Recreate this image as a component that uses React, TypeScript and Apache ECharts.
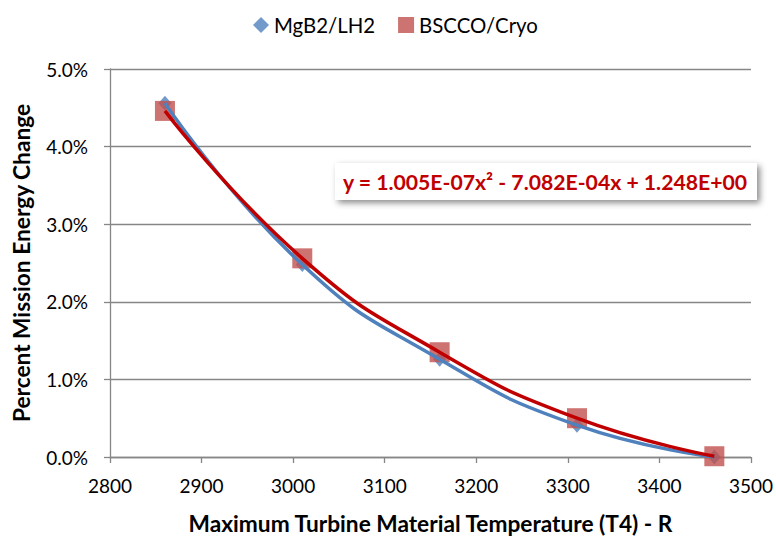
import React, { useEffect, useRef } from "react";
import * as echarts from "echarts";

const temps = [2860, 3010, 3160, 3310, 3460];
const mgb2Values = [4.56, 2.48, 1.26, 0.41, 0.0];
const bsccoValues = [4.46, 2.56, 1.35, 0.5, 0.01];
const seriesNames = ["MgB2/LH2", "BSCCO/Cryo"];
const equationText = "y = 1.005E-07x² - 7.082E-04x + 1.248E+00";
const xTitle = "Maximum Turbine Material Temperature (T4) - R";
const yTitle = "Percent Mission Energy Change";

const FONT_NAME = "Lato";
const FONT = "Lato, 'DejaVu Sans', sans-serif";
const GRID = "#868686";

function fitSize(text: string, weight: string, target: number, fallback: number): number {
  try {
    const ctx = document.createElement("canvas").getContext("2d");
    if (!ctx) return fallback;
    ctx.font = `${weight} 100px ${FONT_NAME}`;
    const w = ctx.measureText(text).width;
    if (!w) return fallback;
    return Math.round((100 * target) / w * 10) / 10;
  } catch (e) {
    return fallback;
  }
}

export default function App() {
  const ref = useRef<HTMLDivElement>(null);
  useEffect(() => {
    if (!ref.current) return;
    const tickSize = fitSize("2800", "normal", 44, 19);
    const legendSize = fitSize(seriesNames[0], "normal", 101, 19);
    const titleSize = fitSize(xTitle, "bold", 486, 23);
    const eqSize = fitSize(equationText, "bold", 404, 21);
    const chart = echarts.init(ref.current, undefined, { renderer: "svg" });
    const pts = (vals: number[]) => temps.map((t, i) => [t, vals[i]]);
    chart.setOption({
      animation: false,
      backgroundColor: "#ffffff",
      textStyle: { fontFamily: FONT },
      grid: { left: 110, right: 24, top: 69, bottom: 82, containLabel: false },
      legend: {
        left: 248,
        top: 10,
        itemWidth: 16,
        itemHeight: 16,
        itemGap: 23,
        textStyle: { fontFamily: FONT, fontSize: legendSize, color: "#000" },
        data: [
          { name: seriesNames[0], icon: "diamond" },
          { name: seriesNames[1], icon: "rect" },
        ],
      },
      xAxis: {
        type: "value",
        min: 2800,
        max: 3500,
        interval: 100,
        name: xTitle,
        nameLocation: "middle",
        nameGap: 55,
        nameTextStyle: { fontFamily: FONT, fontSize: titleSize, fontWeight: "bold", color: "#000" },
        axisLine: { show: true, onZero: false, lineStyle: { color: GRID, width: 1.3 } },
        axisTick: { show: true, length: 6, lineStyle: { color: GRID, width: 1.3 } },
        axisLabel: {
          fontFamily: FONT,
          fontSize: tickSize,
          color: "#000",
          margin: 19,
          formatter: (v: number) => String(v),
        },
        splitLine: { show: false },
      },
      yAxis: {
        type: "value",
        min: 0,
        max: 5,
        interval: 1,
        name: yTitle,
        nameLocation: "middle",
        nameGap: 77,
        nameRotate: 90,
        nameTextStyle: { fontFamily: FONT, fontSize: titleSize, fontWeight: "bold", color: "#000" },
        axisLine: { show: true, lineStyle: { color: GRID, width: 1.3 } },
        axisTick: { show: true, length: 6, lineStyle: { color: GRID, width: 1.3 } },
        axisLabel: {
          fontFamily: FONT,
          fontSize: tickSize,
          color: "#000",
          margin: 22,
          formatter: (v: number) => v.toFixed(1) + "%",
        },
        splitLine: { show: true, lineStyle: { color: GRID, width: 1.3 } },
      },
      series: [
        {
          name: seriesNames[0],
          type: "scatter",
          symbol: "diamond",
          symbolSize: [13, 15],
          itemStyle: { color: "#4F81BD" },
          data: pts(mgb2Values),
          z: 2,
        },
        {
          name: seriesNames[1],
          type: "scatter",
          symbol: "rect",
          symbolSize: 20,
          itemStyle: { color: "#C0504D" },
          data: pts(bsccoValues),
          z: 3,
        },
        {
          name: "MgB2 trend",
          type: "line",
          smooth: true,
          showSymbol: false,
          symbol: "none",
          lineStyle: { color: "#4F81BD", width: 3.5 },
          data: pts(mgb2Values),
          z: 4,
        },
        {
          name: "BSCCO trend",
          type: "line",
          smooth: true,
          showSymbol: false,
          symbol: "none",
          lineStyle: { color: "#C00000", width: 3.5 },
          data: pts(bsccoValues),
          z: 5,
        },
      ],
      graphic: [
        {
          type: "rect",
          left: 335,
          top: 163,
          shape: { width: 422, height: 37 },
          style: {
            fill: "#ffffff",
            shadowBlur: 6,
            shadowOffsetX: 3,
            shadowOffsetY: 3,
            shadowColor: "rgba(0,0,0,0.45)",
          },
          z: 10,
        },
        {
          type: "text",
          x: 545,
          y: 182,
          style: {
            text: equationText,
            fontFamily: FONT,
            fontSize: eqSize,
            fontWeight: "bold",
            fill: "#C00000",
            align: "center",
            verticalAlign: "middle",
          },
          z: 11,
        },
      ],
    });
    return () => chart.dispose();
  }, []);
  return (
    <div
      ref={ref}
      style={{ position: "fixed", left: 0, top: 0, width: 776, height: 540 }}
    />
  );
}
